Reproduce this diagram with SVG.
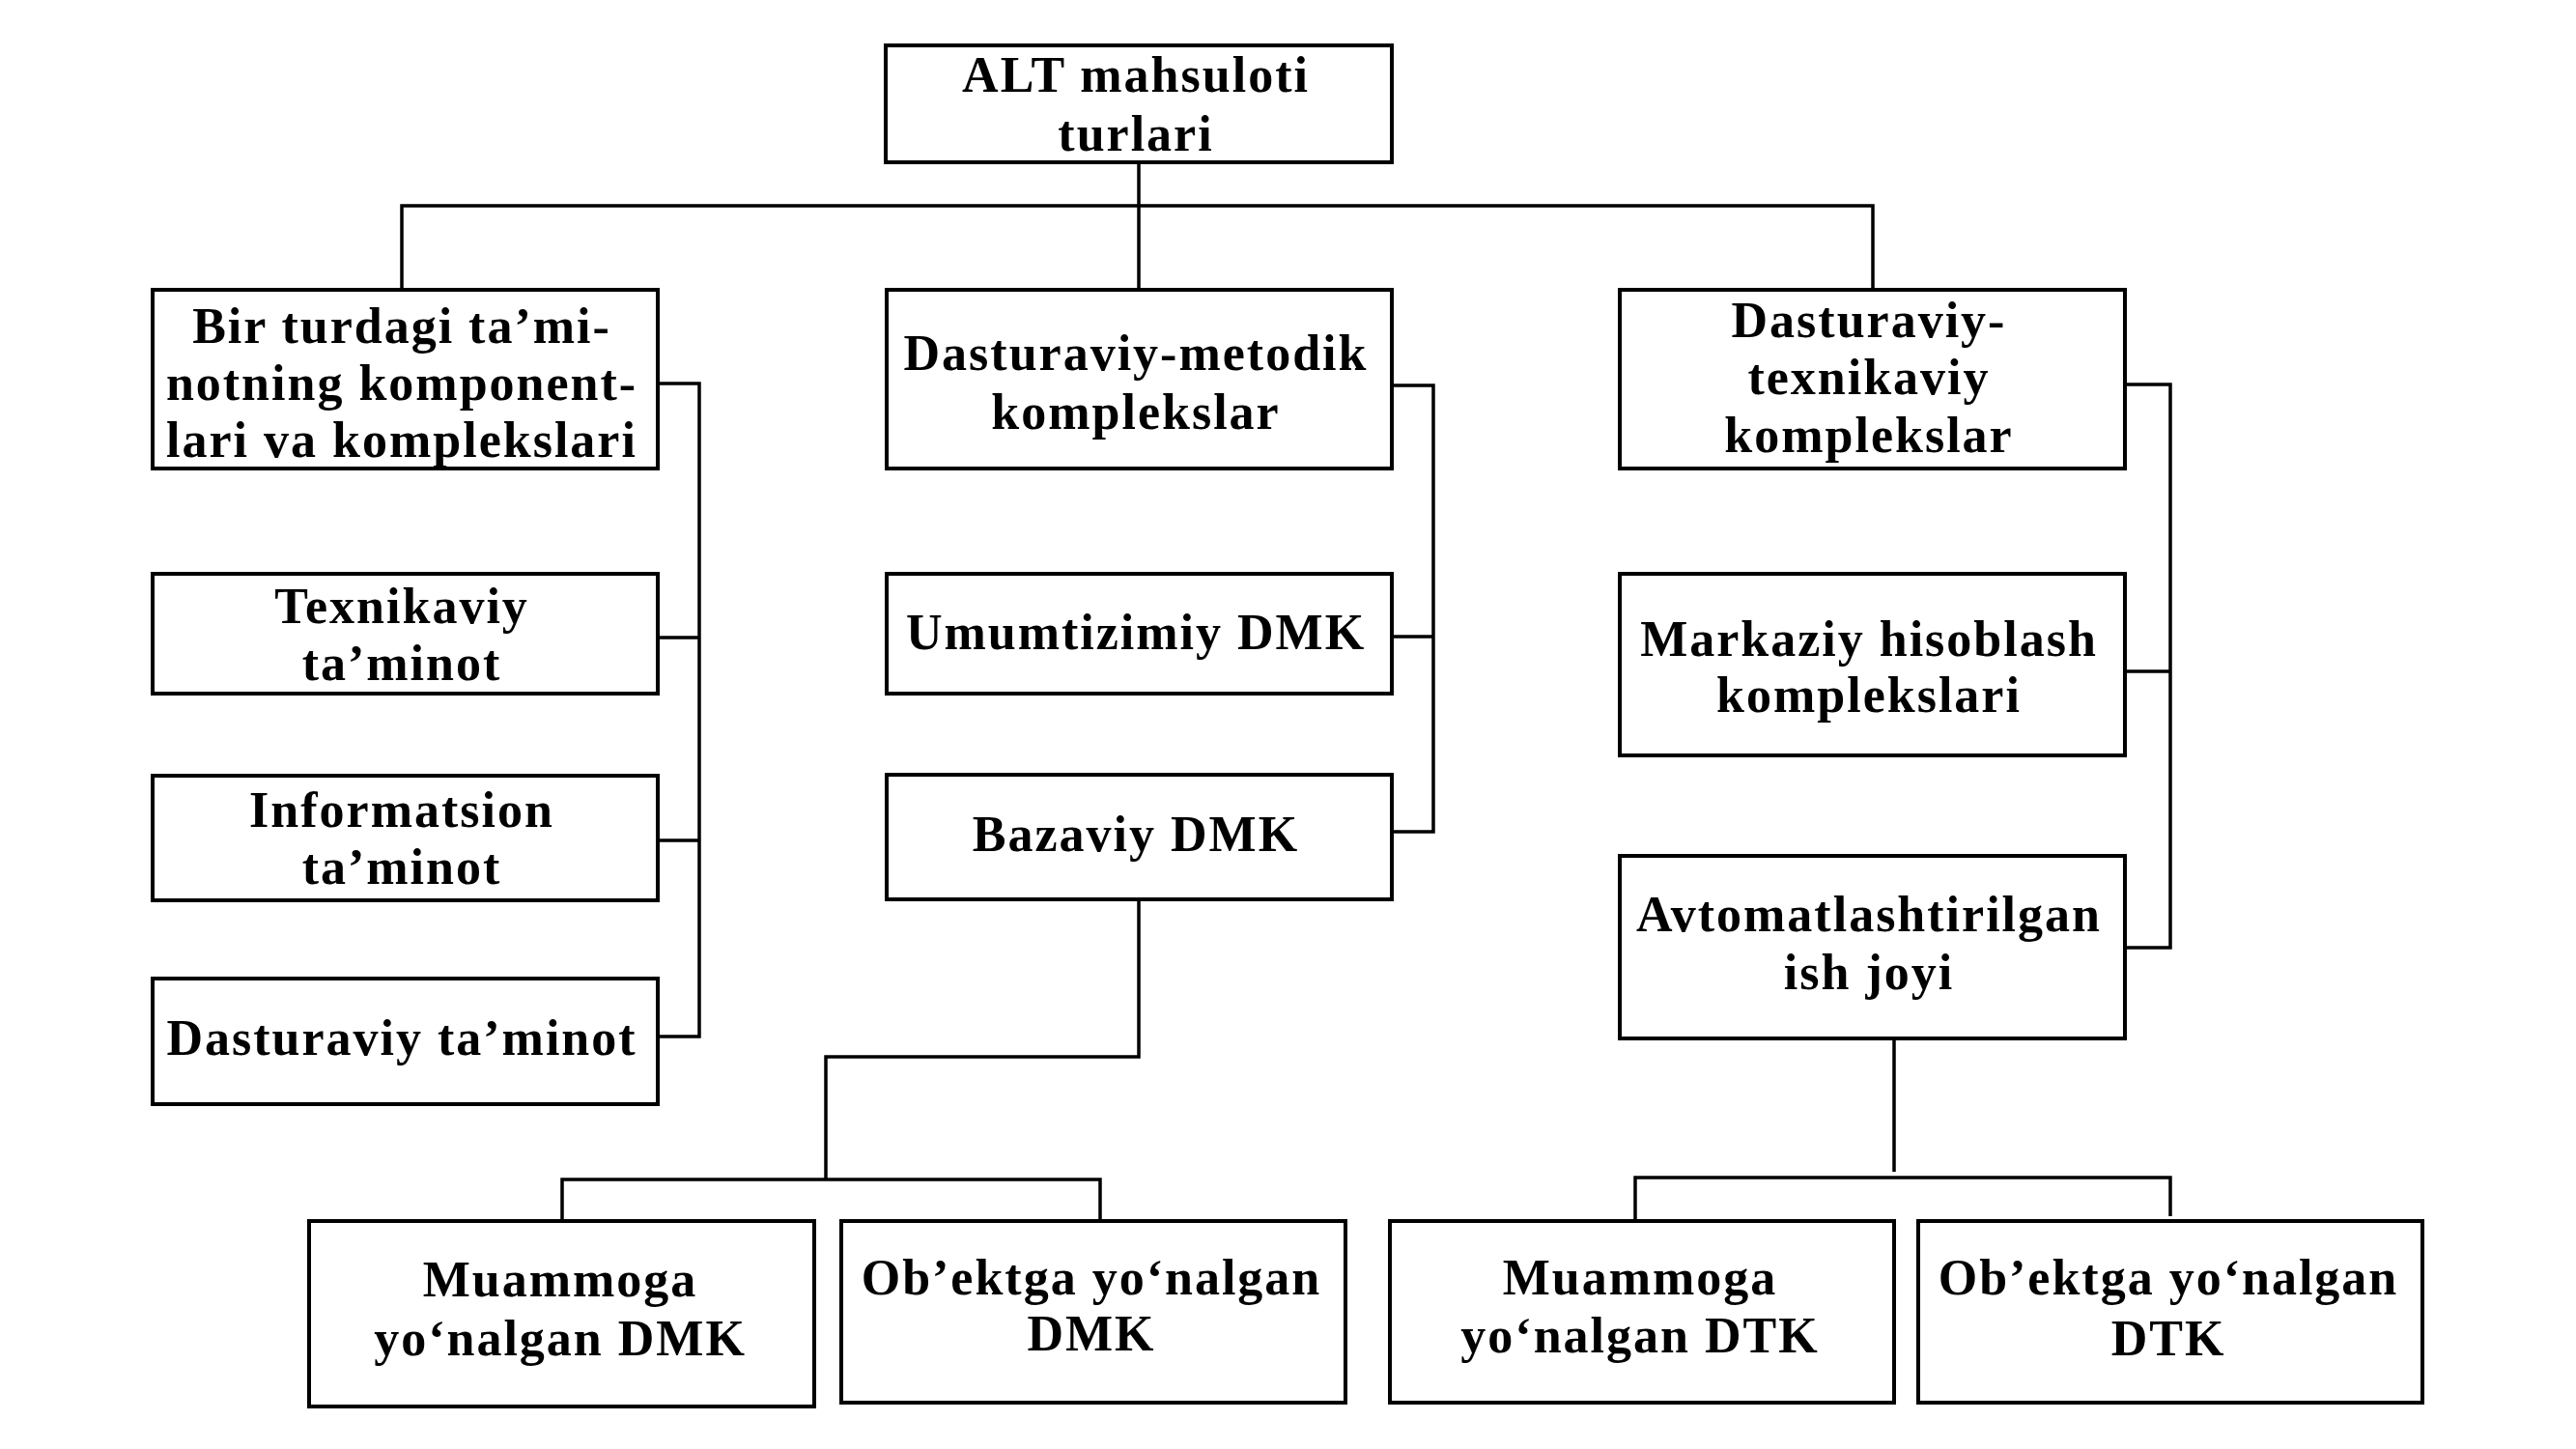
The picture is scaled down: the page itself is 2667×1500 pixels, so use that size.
<svg xmlns="http://www.w3.org/2000/svg" width="2667" height="1500" viewBox="0 0 2667 1500">
<style>
.box{fill:#fff;stroke:#000;stroke-width:4}
.t{font-family:"Liberation Serif","Times New Roman",serif;font-weight:bold;font-size:52px;letter-spacing:2px;text-anchor:middle;fill:#000}
.c{fill:none;stroke:#000;stroke-width:3.5}
</style>
<rect width="2667" height="1500" fill="#fff"/>
<g id="connectors">
<path class="c" d="M1179 168V213M416 300V213H1939V301M1179 213V301"/>
<path class="c" d="M681 397H724V1073H681M681 660H724M681 870H724"/>
<path class="c" d="M1441 399H1484V861H1441M1441 659H1484"/>
<path class="c" d="M1179 931V1094H855V1221M582 1264V1221H1139V1264"/>
<path class="c" d="M2200 398H2247V981H2200M2200 695H2247"/>
<path class="c" d="M1961 1075V1213M1693 1264V1219H2247V1259"/>
</g>
<g id="n-root"><rect class="box" x="917" y="47" width="524" height="121"/>
<text class="t" x="1176" y="95">ALT mahsuloti</text><text class="t" x="1176" y="156">turlari</text></g>
<g id="n-bir"><rect class="box" x="158" y="300" width="523" height="185"/>
<text class="t" x="416" y="355">Bir turdagi ta’mi-</text><text class="t" x="416" y="414">notning komponent-</text><text class="t" x="416" y="473">lari va komplekslari</text></g>
<g id="n-texnik"><rect class="box" x="158" y="594" width="523" height="124"/>
<text class="t" x="416" y="645">Texnikaviy</text><text class="t" x="416" y="704">ta’minot</text></g>
<g id="n-info"><rect class="box" x="158" y="803" width="523" height="129"/>
<text class="t" x="416" y="856">Informatsion</text><text class="t" x="416" y="915">ta’minot</text></g>
<g id="n-dastur"><rect class="box" x="158" y="1013" width="523" height="130"/>
<text class="t" x="416" y="1092">Dasturaviy ta’minot</text></g>
<g id="n-dmk"><rect class="box" x="918" y="300" width="523" height="185"/>
<text class="t" x="1176" y="383">Dasturaviy-metodik</text><text class="t" x="1176" y="444">komplekslar</text></g>
<g id="n-umum"><rect class="box" x="918" y="594" width="523" height="124"/>
<text class="t" x="1176" y="672">Umumtizimiy DMK</text></g>
<g id="n-baza"><rect class="box" x="918" y="802" width="523" height="129"/>
<text class="t" x="1176" y="881">Bazaviy DMK</text></g>
<g id="n-dtk"><rect class="box" x="1677" y="300" width="523" height="185"/>
<text class="t" x="1935" y="349">Dasturaviy-</text><text class="t" x="1935" y="408">texnikaviy</text><text class="t" x="1935" y="468">komplekslar</text></g>
<g id="n-markaz"><rect class="box" x="1677" y="594" width="523" height="188"/>
<text class="t" x="1935" y="679">Markaziy hisoblash</text><text class="t" x="1935" y="737">komplekslari</text></g>
<g id="n-avto"><rect class="box" x="1677" y="886" width="523" height="189"/>
<text class="t" x="1935" y="964">Avtomatlashtirilgan</text><text class="t" x="1935" y="1024">ish joyi</text></g>
<g id="n-muam-dmk"><rect class="box" x="320" y="1264" width="523" height="192"/>
<text class="t" x="580" y="1342">Muammoga</text><text class="t" x="580" y="1403">yo‘nalgan DMK</text></g>
<g id="n-obj-dmk"><rect class="box" x="871" y="1264" width="522" height="188"/>
<text class="t" x="1130" y="1340">Ob’ektga yo‘nalgan</text><text class="t" x="1130" y="1398">DMK</text></g>
<g id="n-muam-dtk"><rect class="box" x="1439" y="1264" width="522" height="188"/>
<text class="t" x="1698" y="1340">Muammoga</text><text class="t" x="1698" y="1400">yo‘nalgan DTK</text></g>
<g id="n-obj-dtk"><rect class="box" x="1986" y="1264" width="522" height="188"/>
<text class="t" x="2245" y="1340">Ob’ektga yo‘nalgan</text><text class="t" x="2245" y="1403">DTK</text></g>
</svg>
